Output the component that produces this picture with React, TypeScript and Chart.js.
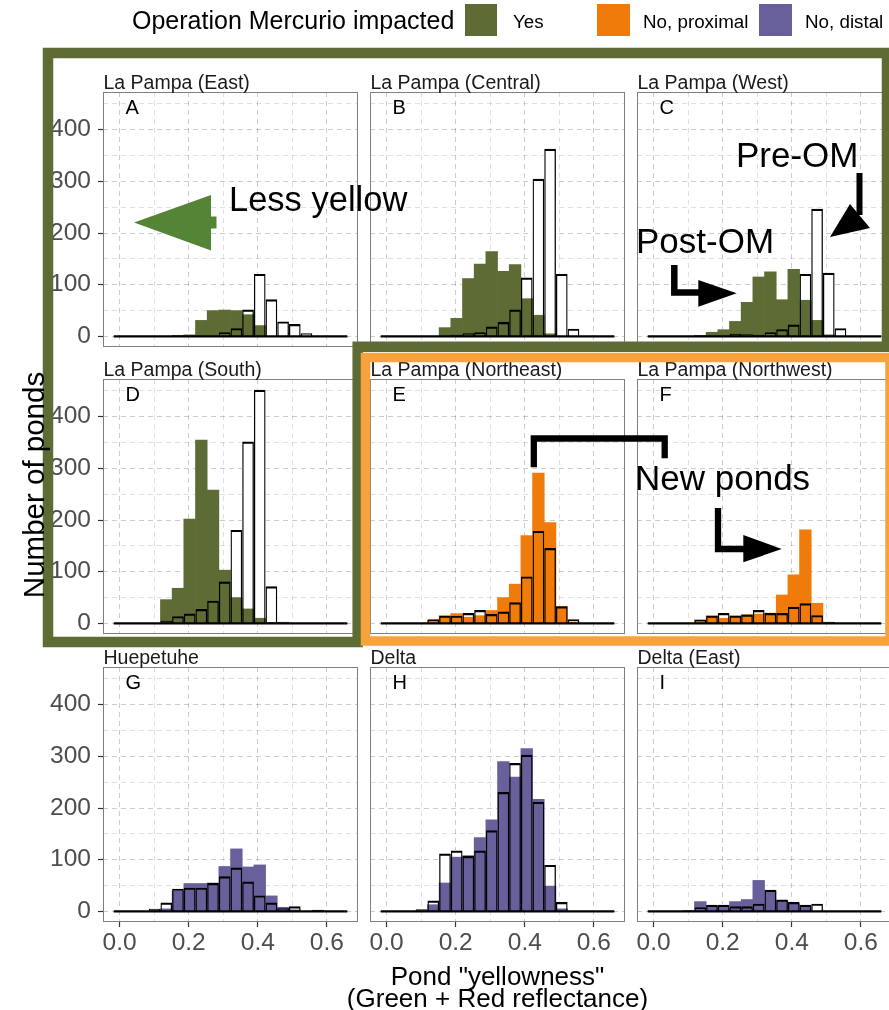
import React, { useEffect, useRef } from "react";
import { Chart, registerables } from "chart.js";
Chart.register(...registerables);

const FONT = "'Liberation Sans', Arial, Helvetica, sans-serif";

// ---------- data ----------
const binCenters = [0, 0.0338, 0.0676, 0.1014, 0.1352, 0.169, 0.2028, 0.2366, 0.2704, 0.3042, 0.338, 0.3718, 0.4056, 0.4394, 0.4732, 0.507, 0.5408, 0.5746, 0.6084, 0.6422];

const xTickValues = [0, 0.2, 0.4, 0.6];
const xTickLabels = ["0.0", "0.2", "0.4", "0.6"];
const yTickValues = [0, 100, 200, 300, 400];
const yTickLabels = ["0", "100", "200", "300", "400"];

const panelTitles = ["La Pampa (East)", "La Pampa (Central)", "La Pampa (West)", "La Pampa (South)", "La Pampa (Northeast)", "La Pampa (Northwest)", "Huepetuhe", "Delta", "Delta (East)"];
const panelLetters = ["A", "B", "C", "D", "E", "F", "G", "H", "I"];
const panelGroup = [0, 0, 0, 0, 1, 1, 2, 2, 2];

const groupNames = ["Yes", "No, proximal", "No, distal"];
const groupColors = ["#5d6b34", "#f07b0a", "#68609b"];
const legendTitle = "Operation Mercurio impacted";

// post-OM counts (filled bars)
const postA = [0, 0, 0, 0, 0, 2, 3, 31, 50, 51, 50, 42, 21, 0, 0, 0, 0, 0, 0, 0];
const postB = [0, 0, 0, 0, 0, 17, 35, 112, 140, 164, 126, 139, 73, 41, 5, 0, 0, 0, 0, 0];
const postC = [0, 0, 0, 0, 2, 8, 13, 29, 66, 115, 125, 71, 130, 70, 31, 3, 0, 0, 0, 0];
const postD = [0, 0, 0, 0, 46, 68, 202, 355, 258, 103, 50, 28, 10, 2, 0, 0, 0, 0, 0, 0];
const postE = [0, 0, 0, 0, 6, 15, 19, 12, 15, 25, 50, 76, 170, 291, 195, 33, 3, 0, 0, 0];
const postF = [0, 0, 0, 0, 7, 15, 10, 15, 17, 18, 20, 55, 94, 181, 39, 2, 0, 0, 0, 0];
const postG = [0, 0, 0, 2, 5, 39, 54, 54, 55, 87, 121, 86, 90, 30, 8, 3, 0, 2, 0, 0];
const postH = [0, 0, 0, 2, 13, 55, 105, 108, 143, 177, 290, 260, 315, 217, 49, 5, 0, 0, 0, 0];
const postI = [0, 0, 0, 2, 19, 10, 8, 19, 23, 60, 40, 20, 15, 10, 0, 0, 0, 0, 0, 0];

// pre-OM counts (outlined bars)
const preA = [0, 0, 0, 0, 0, 0, 0, 0, 0, 8, 16, 52, 121, 72, 29, 24, 6, 0, 0, 0];
const preB = [0, 0, 0, 0, 0, 0, 3, 6, 8, 19, 28, 52, 114, 305, 363, 121, 15, 0, 0, 0];
const preC = [0, 0, 0, 0, 0, 0, 0, 5, 4, 3, 8, 14, 23, 121, 247, 123, 16, 0, 0, 0];
const preD = [0, 0, 0, 0, 5, 14, 19, 28, 44, 81, 181, 352, 452, 72, 3, 0, 0, 0, 0, 0];
const preE = [0, 0, 0, 0, 8, 15, 15, 20, 26, 18, 23, 41, 91, 179, 146, 33, 8, 0, 0, 0];
const preF = [0, 0, 0, 0, 7, 15, 20, 15, 17, 26, 20, 20, 32, 39, 16, 3, 0, 0, 0, 0];
const preG = [0, 0, 0, 5, 17, 44, 46, 46, 55, 68, 85, 58, 31, 17, 6, 10, 0, 3, 0, 0];
const preH = [0, 0, 0, 4, 21, 112, 118, 107, 118, 157, 231, 287, 303, 212, 90, 18, 1, 0, 0, 0];
const preI = [0, 0, 0, 0, 8, 13, 13, 10, 10, 15, 42, 23, 18, 13, 15, 0, 0, 0, 0, 0];

const postCounts = [postA, postB, postC, postD, postE, postF, postG, postH, postI];
const preCounts = [preA, preB, preC, preD, preE, preF, preG, preH, preI];

// ---------- layout ----------
const colLeft = [103, 370, 637];
const rowTop = [92, 379, 667];
const PW = 255;
const PH = 255;

function Panel({ idx }: { idx: number }) {
  const ref = useRef<HTMLCanvasElement>(null);
  const r = Math.floor(idx / 3);
  const c = idx % 3;
  const L = c === 0 ? 100 : 0;
  const B = r === 2 ? 42 : 0;
  const left = colLeft[c] - L;
  const top = rowTop[r];

  useEffect(() => {
    const toPts = (arr: number[]) => arr.map((y, i) => ({ x: binCenters[i], y }));
    const letter = panelLetters[idx];
    const deco = {
      id: "deco" + idx,
      afterDatasetsDraw(chart: any) {
        const ctx = chart.ctx;
        const meta = chart.getDatasetMeta(2);
        const els = meta.data;
        const first = els[0];
        const last = els[els.length - 1];
        const y0 = chart.scales.y.getPixelForValue(0);
        ctx.save();
        ctx.strokeStyle = "#000";
        ctx.lineWidth = 2.2;
        ctx.beginPath();
        ctx.moveTo(first.x - first.width / 2, y0);
        ctx.lineTo(last.x + last.width / 2, y0);
        ctx.stroke();
        ctx.fillStyle = "#000";
        ctx.font = `20px ${FONT}`;
        ctx.textAlign = "left";
        ctx.textBaseline = "middle";
        ctx.fillText(letter, chart.scales.x.getPixelForValue(0.017), chart.scales.y.getPixelForValue(442));
        ctx.restore();
      },
      afterDraw(chart: any) {
        const a = chart.chartArea;
        const ctx = chart.ctx;
        ctx.save();
        ctx.strokeStyle = "#808080";
        ctx.lineWidth = 1;
        ctx.strokeRect(a.left + 0.5, a.top + 0.5, a.right - a.left - 1, a.bottom - a.top - 1);
        ctx.restore();
      },
    };
    const isMajorX = (v: number) => Math.round(v * 10) % 2 === 0;
    const isMajorY = (v: number) => Math.round(v) % 100 === 0;
    const chart = new Chart(ref.current as HTMLCanvasElement, {
      type: "bar",
      data: {
        datasets: [
          {
            label: "pre-fill",
            data: toPts(preCounts[idx]),
            backgroundColor: "#ffffff",
            borderWidth: 0,
            grouped: false,
            order: 3,
            barPercentage: 1,
            categoryPercentage: 1,
          } as any,
          {
            label: "post",
            data: toPts(postCounts[idx]),
            backgroundColor: groupColors[panelGroup[idx]],
            borderWidth: 0,
            grouped: false,
            order: 2,
            barPercentage: 1,
            categoryPercentage: 1,
          } as any,
          {
            label: "pre",
            data: toPts(preCounts[idx]),
            backgroundColor: "rgba(0,0,0,0)",
            borderColor: "#000",
            borderWidth: { top: 2.2, left: 1.3, right: 1.3, bottom: 0 },
            borderSkipped: "start",
            inflateAmount: 0,
            grouped: false,
            order: 1,
            barPercentage: 1,
            categoryPercentage: 1,
          } as any,
        ],
      },
      options: {
        responsive: false,
        animation: false,
        devicePixelRatio: 1,
        events: [],
        layout: { padding: 0 },
        plugins: { legend: { display: false }, tooltip: { enabled: false } },
        scales: {
          x: {
            type: "linear",
            min: -0.048,
            max: 0.69,
            offset: false,
            grid: {
              offset: false,
              color: (ctx: any) => (isMajorX(ctx.tick.value) ? "rgba(0,0,0,0.2)" : "rgba(0,0,0,0.12)"),
              lineWidth: 1,
              drawTicks: r === 2,
              tickLength: 5,
              tickWidth: 1.2,
              tickColor: (ctx: any) => (isMajorX(ctx.tick.value) ? "#333333" : "rgba(0,0,0,0)"),
            },
            border: { display: false, dash: [5, 4] },
            ticks: {
              display: r === 2,
              stepSize: 0.1,
              includeBounds: false,
              autoSkip: false,
              maxRotation: 0,
              padding: 2,
              color: "#4d4d4d",
              font: { family: FONT, size: 24.5 },
              callback: (v: any) => {
                const i = xTickValues.findIndex((t) => Math.abs(t - Number(v)) < 1e-6);
                return i >= 0 ? xTickLabels[i] : "";
              },
            },
            afterFit: (s: any) => {
              s.height = B;
              s.paddingLeft = 0;
              s.paddingRight = 0;
            },
          } as any,
          y: {
            type: "linear",
            min: -20.5,
            max: 473,
            grid: {
              color: (ctx: any) => (isMajorY(ctx.tick.value) ? "rgba(0,0,0,0.2)" : "rgba(0,0,0,0.12)"),
              lineWidth: 1,
              drawTicks: c === 0,
              tickLength: 5,
              tickWidth: 1.2,
              tickColor: (ctx: any) => (isMajorY(ctx.tick.value) ? "#333333" : "rgba(0,0,0,0)"),
            },
            border: { display: false, dash: [5, 4] },
            ticks: {
              display: c === 0,
              stepSize: 50,
              includeBounds: false,
              autoSkip: false,
              padding: 7,
              color: "#4d4d4d",
              font: { family: FONT, size: 24.5 },
              callback: (v: any) => {
                const i = yTickValues.findIndex((t) => Math.abs(t - Number(v)) < 1e-6);
                return i >= 0 ? yTickLabels[i] : "";
              },
            },
            afterFit: (s: any) => {
              s.width = L;
              s.paddingTop = 0;
              s.paddingBottom = 0;
            },
          } as any,
        },
      },
      plugins: [deco as any],
    } as any);
    return () => chart.destroy();
  }, []);

  return (
    <canvas
      ref={ref}
      width={L + PW}
      height={PH + B}
      style={{ position: "absolute", left, top, width: L + PW, height: PH + B }}
    />
  );
}

export default function App() {
  const green = groupColors[0];
  const orangeFrame = "#f7a23a";
  const arrowGreen = "#548537";
  return (
    <div style={{ position: "absolute", left: 0, top: 0, width: 889, height: 1010, overflow: "hidden", background: "#fff", fontFamily: FONT }}>
      {panelTitles.map((_, i) => (
        <Panel key={i} idx={i} />
      ))}
      <svg width={889} height={1010} style={{ position: "absolute", left: 0, top: 0, pointerEvents: "none" }} fontFamily={FONT}>
        {/* strip labels */}
        {panelTitles.map((t, i) => (
          <text key={t} x={colLeft[i % 3] + 0.5} y={rowTop[Math.floor(i / 3)] - 3} fontSize={19.5} fill="#1a1a1a">
            {t}
          </text>
        ))}
        {/* legend */}
        <text x={132} y={29} fontSize={25} fill="#000">{legendTitle}</text>
        <rect x={465} y={4} width={32} height={32} fill={groupColors[0]} />
        <text x={513} y={27.5} fontSize={18.8} fill="#000">{groupNames[0]}</text>
        <rect x={597} y={4} width={33} height={32} fill={groupColors[1]} />
        <text x={643} y={27.5} fontSize={18.8} fill="#000">{groupNames[1]}</text>
        <rect x={759} y={4} width={33} height={32} fill={groupColors[2]} />
        <text x={805} y={27.5} fontSize={18.8} fill="#000">{groupNames[2]}</text>

        {/* frames */}
        <path d="M48,53 H887 V346.7 H357.7 V642 H48 Z" fill="none" stroke={green} strokeWidth={10.5} strokeLinejoin="miter" />
        <path d="M365.5,357.5 H890 V641 H365.5 Z" fill="none" stroke={orangeFrame} strokeWidth={9.5} strokeLinejoin="miter" />

        {/* annotations */}
        <polygon points="134,222.5 211,195 211,216.5 216.5,216.5 216.5,228.5 211,228.5 211,250.5" fill={arrowGreen} />
        <text x={229} y={211} fontSize={34.5} fill="#000">Less yellow</text>

        <text x={736} y={167} fontSize={35} fill="#000">Pre-OM</text>
        <rect x={856.5} y={173} width={6} height={42} fill="#000" />
        <polygon points="830,237 850,204 870,228" fill="#000" />

        <text x={636} y={253} fontSize={35} fill="#000">Post-OM</text>
        <polyline points="674.3,265 674.3,292.5 700,292.5" fill="none" stroke="#000" strokeWidth={6.5} strokeLinejoin="miter" />
        <polygon points="698.3,280 698.3,306.7 736.7,293.3" fill="#000" />

        <polyline points="533.8,467.3 533.8,438.5 664.7,438.5 664.7,458.3" fill="none" stroke="#000" strokeWidth={6.3} strokeLinejoin="miter" />
        <text x={635} y={489.5} fontSize={35} fill="#000">New ponds</text>
        <polyline points="718,508 718,549 745,549" fill="none" stroke="#000" strokeWidth={6.3} strokeLinejoin="miter" />
        <polygon points="743.3,535 743.3,562.3 781.7,549" fill="#000" />

        {/* axis titles */}
        <text x={497.5} y={985} fontSize={26} textAnchor="middle" fill="#000">{'Pond "yellowness"'}</text>
        <text x={497.5} y={1006.5} fontSize={26} textAnchor="middle" fill="#000">(Green + Red reflectance)</text>
        <text transform="translate(33,485) rotate(-90)" fontSize={29.5} textAnchor="middle" dominantBaseline="central" fill="#000">
          Number of ponds
        </text>
      </svg>
    </div>
  );
}
